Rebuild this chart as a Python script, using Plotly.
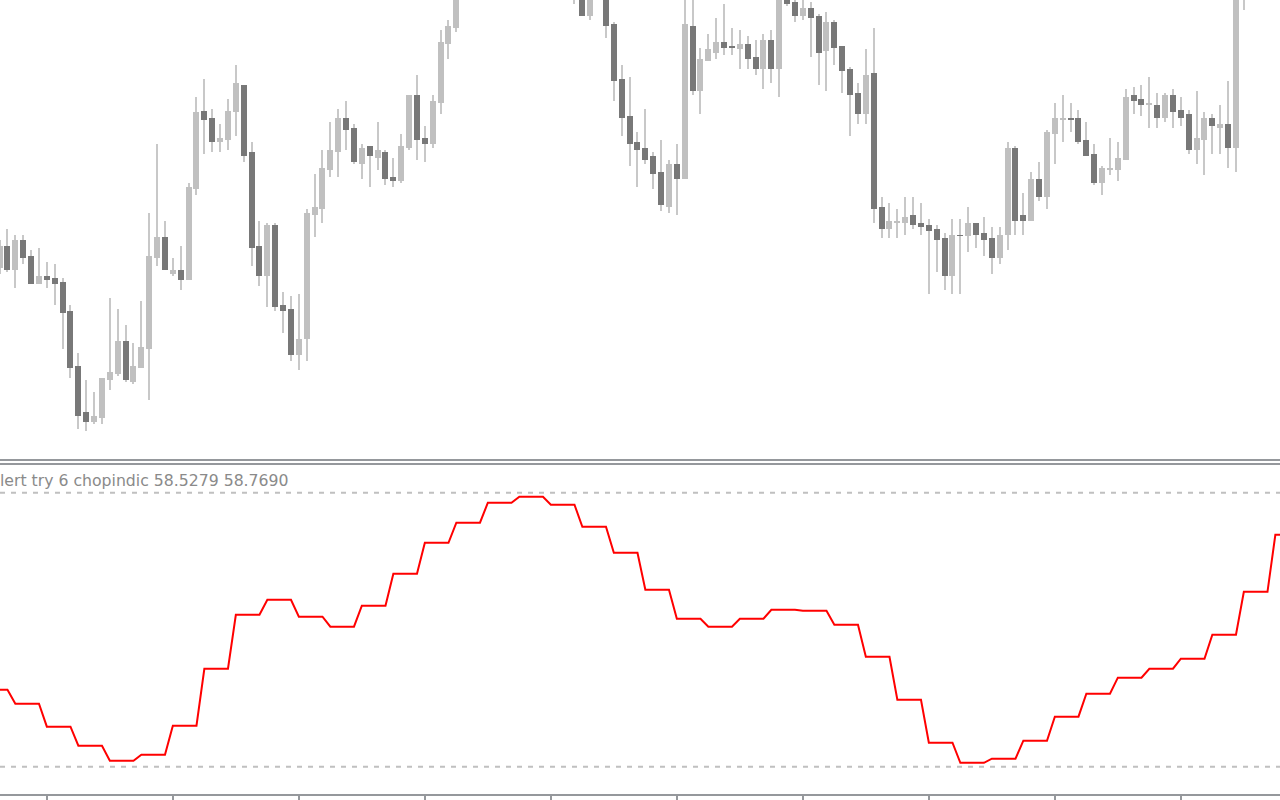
import numpy as np
import plotly.graph_objects as go

# ---------------- data (price in chart units) ----------------
bar_index = list(range(163))

open_ = [192, 214, 190, 220, 204, 176, 184, 182, 178, 149,
         94, 48, 38, 42, 80, 86, 119, 78, 92, 111,
         202, 223, 186, 190, 180, 271, 349, 342, 318, 320,
         348, 375, 308, 214, 184, 235, 155, 151, 105, 121,
         245, 251, 290, 308, 342, 332, 296, 314, 302, 308,
         283, 279, 312, 365, 322, 316, 357, 416, 432, 472,
         490, 478, 503, 515, 497, 510, 500, 512, 495, 486,
         498, 484, 494, 470, 485, 444, 472, 468, 436, 381,
         344, 318, 312, 304, 288, 253, 296, 281, 434, 369,
         399, 407, 418, 414, 411, 416, 403, 391, 420, 391,
         480, 458, 444, 452, 444, 409, 438, 414, 391, 367,
         346, 387, 253, 231, 237, 237, 245, 237, 235, 231,
         222, 184, 225, 224, 237, 227, 222, 202, 225, 312,
         245, 239, 281, 263, 326, 340, 342, 342, 320, 306,
         277, 290, 290, 300, 365, 361, 355, 355, 342, 365,
         350, 346, 310, 320, 342, 332, 336, 312, 500, 515,
         530, 522, 545]

high = [220, 231, 225, 225, 210, 212, 198, 196, 182, 155,
        107, 80, 68, 82, 162, 151, 135, 117, 159, 247,
        316, 239, 202, 214, 277, 363, 381, 351, 336, 361,
        395, 375, 318, 239, 237, 237, 168, 164, 166, 251,
        286, 310, 338, 351, 359, 336, 316, 314, 338, 310,
        302, 326, 365, 385, 334, 365, 430, 440, 485, 498,
        500, 512, 524, 520, 518, 516, 522, 518, 503, 506,
        502, 500, 498, 490, 488, 478, 482, 474, 438, 395,
        383, 328, 351, 308, 320, 300, 316, 466, 464, 412,
        426, 442, 456, 432, 430, 424, 420, 426, 430, 485,
        490, 465, 463, 458, 446, 448, 440, 414, 393, 377,
        411, 432, 263, 257, 251, 263, 263, 257, 241, 235,
        227, 241, 241, 253, 237, 243, 233, 233, 318, 314,
        267, 288, 298, 330, 357, 365, 357, 350, 338, 316,
        294, 322, 318, 371, 373, 375, 383, 367, 367, 371,
        363, 350, 369, 348, 346, 355, 379, 510, 522, 538,
        540, 552, 562]

low = [186, 188, 172, 196, 176, 176, 172, 155, 111, 82,
       31, 29, 36, 36, 70, 84, 78, 76, 92, 60,
       194, 190, 184, 170, 180, 265, 306, 308, 308, 310,
       324, 298, 194, 174, 153, 149, 127, 99, 90, 99,
       223, 237, 283, 283, 310, 296, 281, 273, 290, 275,
       273, 277, 310, 300, 298, 312, 346, 401, 428, 466,
       470, 474, 496, 490, 492, 494, 495, 488, 480, 479,
       476, 475, 472, 456, 444, 440, 462, 422, 359, 324,
       294, 273, 296, 271, 249, 247, 245, 281, 365, 346,
       399, 401, 405, 405, 391, 391, 385, 371, 377, 363,
       454, 438, 440, 403, 375, 369, 395, 367, 324, 336,
       336, 237, 222, 222, 222, 225, 231, 225, 166, 188,
       170, 166, 166, 208, 212, 204, 186, 196, 210, 225,
       225, 239, 259, 251, 296, 318, 328, 316, 304, 275,
       265, 285, 279, 300, 346, 344, 332, 332, 338, 332,
       334, 306, 296, 285, 306, 306, 292, 288, 450, 508,
       515, 518, 538]

close = [214, 190, 220, 202, 176, 184, 180, 176, 147, 92,
         44, 38, 44, 82, 88, 119, 80, 94, 113, 204,
         223, 190, 190, 180, 273, 348, 340, 318, 322, 349,
         377, 304, 212, 184, 235, 153, 149, 105, 121, 247,
         253, 292, 310, 342, 330, 298, 312, 304, 310, 281,
         279, 314, 365, 320, 316, 359, 418, 434, 472, 490,
         478, 503, 515, 497, 510, 500, 512, 495, 486, 498,
         484, 494, 480, 485, 444, 470, 465, 434, 379, 342,
         316, 310, 300, 286, 255, 296, 281, 436, 369, 401,
         411, 418, 412, 412, 416, 401, 391, 420, 391, 475,
         456, 444, 452, 442, 407, 438, 412, 389, 365, 346,
         385, 251, 231, 239, 239, 243, 235, 233, 229, 220,
         184, 225, 224, 237, 225, 220, 202, 225, 312, 239,
         239, 281, 263, 328, 342, 342, 340, 318, 304, 277,
         292, 292, 302, 363, 359, 355, 357, 342, 365, 348,
         342, 310, 322, 342, 334, 336, 312, 500, 515, 530,
         522, 545, 556]

# Choppiness index (higher-timeframe values, each held for a block of bars)
chop_block_values = [44.83, 43.63, 41.65, 40.01, 38.72, 39.23, 41.73, 46.64, 51.29, 52.58,
                     51.12, 50.26, 52.07, 54.82, 57.49, 59.22, 60.94, 61.46, 60.77, 58.87,
                     56.63, 53.45, 50.95, 50.26, 50.95, 51.72, 51.64, 50.43, 47.67, 43.97,
                     40.27, 38.54, 38.89, 40.44, 42.51, 44.49, 45.87, 46.64, 47.50, 49.57,
                     53.27, 58.18]
chop_block_lengths = [2] + [4] * 40 + [2]
chop_levels = [61.8, 38.2]

time_tick_bars = [6, 22, 38, 54, 70, 86, 102, 118, 134, 150]
label_text = "lert try 6 chopindic 58.5279 58.7690"

# ---------------- derived ----------------
o = np.array(open_, float)
c = np.array(close, float)
h = np.array(high, float)
l = np.array(low, float)
body_base = np.minimum(o, c)
body_len = np.maximum(np.abs(c - o), 1.0)
bull = c > o
body_colors = np.where(bull, "#c0c0c0", "#787878")

chop_values = np.repeat(chop_block_values, chop_block_lengths)
chop_x = np.arange(len(chop_values))

WICK = "#c8c8c8"
SEP = "#95989c"

fig = go.Figure()
fig.add_trace(go.Bar(x=bar_index, y=h - l, base=l, width=0.254,
                     marker=dict(color=WICK, line=dict(width=0)),
                     xaxis="x", yaxis="y", hoverinfo="skip"))
fig.add_trace(go.Bar(x=bar_index, y=body_len, base=body_base, width=0.762,
                     marker=dict(color=list(body_colors), line=dict(width=0)),
                     xaxis="x", yaxis="y", hoverinfo="skip"))
fig.add_trace(go.Scatter(x=chop_x, y=chop_values, mode="lines",
                         line=dict(color="#ff0000", width=2),
                         xaxis="x2", yaxis="y2", hoverinfo="skip"))

xr = [0.0508, 162.59]
fig.update_layout(
    width=1280, height=800,
    margin=dict(l=0, r=0, t=0, b=0),
    paper_bgcolor="white", plot_bgcolor="white",
    showlegend=False, barmode="overlay", bargap=0,
    xaxis=dict(domain=[0, 1], anchor="y", range=xr, visible=False),
    yaxis=dict(domain=[0.42625, 1], anchor="x", range=[1, 460], visible=False),
    xaxis2=dict(domain=[0, 1], anchor="y2", range=xr, showgrid=False, zeroline=False,
                showline=True, linecolor=SEP, linewidth=2,
                ticks="outside", tickvals=time_tick_bars, ticklen=6, tickwidth=2,
                tickcolor=SEP, showticklabels=False),
    yaxis2=dict(domain=[0.0075, 0.41875], anchor="x2", range=[35.85, 64.19], visible=False),
)

shapes = []
for lv in chop_levels:
    shapes.append(dict(type="line", xref="paper", yref="y2", x0=0, x1=1, y0=lv, y1=lv,
                       line=dict(color="#c0c0c0", width=2, dash="5px,6px"), layer="below"))
for yp in (0.425, 0.42):
    shapes.append(dict(type="line", xref="paper", yref="paper", x0=0, x1=1, y0=yp, y1=yp,
                       line=dict(color=SEP, width=2)))
fig.update_layout(shapes=shapes)

fig.add_annotation(text=label_text, xref="paper", yref="paper", x=0, y=1 - 481 / 800,
                   xanchor="left", yanchor="middle", showarrow=False, xshift=-2,
                   font=dict(family="DejaVu Sans", size=15.7, color="#8a8a8a"))

fig.write_html("out.html", config={"displayModeBar": False},
               post_script="document.body.style.margin='0';document.body.style.overflow='hidden';")
